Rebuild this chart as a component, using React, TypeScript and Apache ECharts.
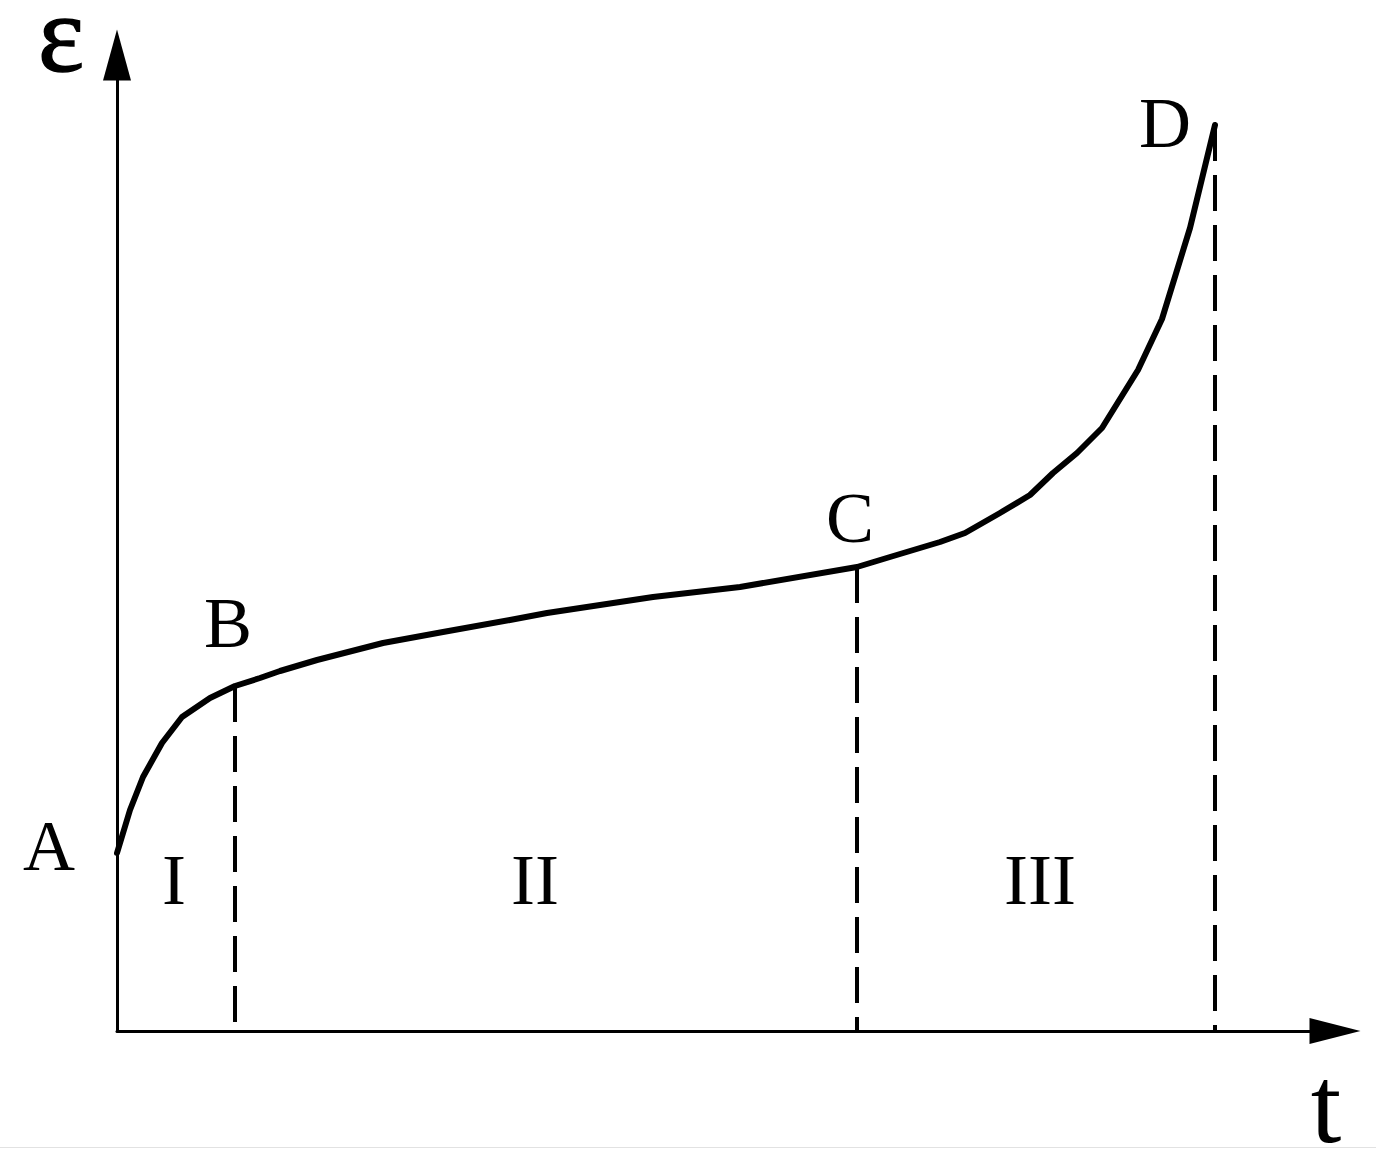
import React, { useEffect, useRef } from "react";
import * as echarts from "echarts";

// Creep curve: strain ε against time t (arbitrary units)
const curveT = [0, 13, 26, 45, 65, 93, 118, 143, 163, 200, 266, 326, 393, 430, 536, 623, 740, 773, 823, 848, 883, 913, 936, 960, 985, 1021, 1045, 1073, 1098];
const curveEps = [178, 221, 254, 288, 314, 333, 345, 353, 360, 371, 388, 399, 411, 418, 434, 444, 464, 474, 489, 498, 518, 536, 558, 578, 603, 661, 712, 803, 906];

// Characteristic points on the curve
const pointNames = ["A", "B", "C", "D"];
const pointT = [0, 118, 740, 1098];

// Stage boundaries (dashed verticals) and stage labels
const boundaryT = [118, 740, 1098];
const stageNames = ["I", "II", "III"];
const stageT = [57, 418, 923];
const stageEps = [151, 151, 151];

// Axis extents
const axisMaxT = 1218;
const axisMaxEps = 976;

const epsAt = (t: number) => curveEps[curveT.indexOf(t)];

const FONT = "'Liberation Serif', 'Times New Roman', serif";
const pointLabelOffsets: [number, number][] = [
  [-68, -7],
  [-7, -63],
  [-7, -49],
  [-50, -2],
];

export default function App() {
  const ref = useRef<HTMLDivElement>(null);

  useEffect(() => {
    if (!ref.current) return;
    const chart = echarts.init(ref.current, null, { renderer: "svg" });

    const labelBase = {
      show: true,
      position: "inside" as const,
      color: "#000",
      opacity: 1,
      fontFamily: FONT,
      fontSize: 72,
      formatter: "{b}",
    };

    const option: any = {
      animation: false,
      backgroundColor: "#fff",
      grid: { left: 117, right: 41, top: 55, bottom: 130, containLabel: false },
      xAxis: {
        type: "value",
        min: 0,
        max: axisMaxT,
        axisLine: {
          show: true,
          symbol: ["none", "triangle"],
          symbolSize: [26, 51],
          lineStyle: { color: "#000", width: 3 },
        },
        axisTick: { show: false },
        axisLabel: { show: false },
        splitLine: { show: false },
      },
      yAxis: {
        type: "value",
        min: 0,
        max: axisMaxEps,
        axisLine: {
          show: true,
          symbol: ["none", "triangle"],
          symbolSize: [28, 51],
          lineStyle: { color: "#000", width: 3 },
        },
        axisTick: { show: false },
        axisLabel: { show: false },
        splitLine: { show: false },
      },
      series: [
        ...boundaryT.map((t) => ({
          type: "line",
          silent: true,
          symbol: "none",
          z: 2,
          data: [
            [t, epsAt(t)],
            [t, 0],
          ],
          lineStyle: { color: "#000", width: 4, type: [36, 14] },
        })),
        {
          type: "line",
          silent: true,
          symbol: "none",
          z: 3,
          data: curveT.map((t, i) => [t, curveEps[i]]),
          lineStyle: { color: "#000", width: 6, cap: "round", join: "round" },
        },
        {
          type: "scatter",
          silent: true,
          z: 4,
          symbolSize: 1,
          itemStyle: { color: "rgba(0,0,0,0)", opacity: 1 },
          data: pointNames.map((n, i) => ({
            name: n,
            value: [pointT[i], epsAt(pointT[i])],
            label: { ...labelBase, offset: pointLabelOffsets[i] },
          })),
          label: labelBase,
        },
        {
          type: "scatter",
          silent: true,
          z: 4,
          symbolSize: 1,
          itemStyle: { color: "rgba(0,0,0,0)", opacity: 1 },
          data: stageNames.map((n, i) => ({ name: n, value: [stageT[i], stageEps[i]] })),
          label: labelBase,
        },
      ],
      graphic: [
        {
          type: "text",
          x: 61,
          y: 34,
          style: {
            text: "ε",
            fill: "#000",
            stroke: "#000",
            lineWidth: 1.5,
            font: `110px ${FONT}`,
            lineHeight: 56,
            textAlign: "center",
            textVerticalAlign: "middle",
          },
        },
        {
          type: "text",
          x: 1326,
          y: 1105,
          style: {
            text: "t",
            fill: "#000",
            font: `110px ${FONT}`,
            lineHeight: 70,
            textAlign: "center",
            textVerticalAlign: "middle",
          },
        },
        {
          type: "line",
          shape: { x1: 0, y1: 1147.5, x2: 1376, y2: 1147.5 },
          style: { stroke: "#e2e2e2", lineWidth: 1 },
        },
      ],
    };

    chart.setOption(option);
    return () => chart.dispose();
  }, []);

  return (
    <div
      ref={ref}
      style={{ position: "fixed", left: 0, top: 0, width: 1376, height: 1161, background: "#fff" }}
    />
  );
}
